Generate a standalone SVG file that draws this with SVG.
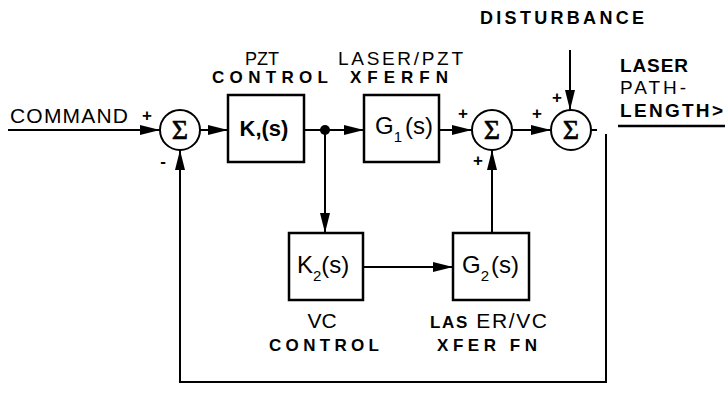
<svg xmlns="http://www.w3.org/2000/svg" width="727" height="394" viewBox="0 0 727 394">
<defs>
<marker id="arr" viewBox="0 0 20 11" refX="20" refY="5.5" markerWidth="20" markerHeight="11" orient="auto" markerUnits="userSpaceOnUse">
<path d="M0,0.5 L20,5.5 L0,10.5 z" fill="#000"/>
</marker>
<style>
.ln{fill:none;stroke:#000;stroke-width:2}
.ar{fill:none;stroke:#000;stroke-width:2;marker-end:url(#arr)}
.bx{fill:#fff;stroke:#000;stroke-width:2.5}
.sc{fill:#fff;stroke:#000;stroke-width:2}
.sig{font-family:"Liberation Serif",serif;font-size:28px;text-anchor:middle;stroke:#000;stroke-width:0.6}
.t{font-family:"Liberation Sans",Arial,sans-serif;fill:#000}
.b{font-weight:bold}
.c{text-anchor:middle}
.sg{font-family:"Liberation Sans",Arial,sans-serif;font-weight:bold;font-size:17px;text-anchor:middle}
</style>
</defs>
<rect width="727" height="394" fill="#fff"/>

<g id="connectors">
<line class="ar" x1="8" y1="130" x2="160" y2="130"/>
<line class="ar" x1="200" y1="130" x2="228" y2="130"/>
<line class="ln" x1="304" y1="130" x2="330" y2="130"/>
<line class="ar" x1="325" y1="130" x2="364" y2="130"/>
<circle cx="325" cy="130" r="5" fill="#000"/>
<line class="ar" x1="325" y1="130" x2="325" y2="233"/>
<line class="ar" x1="439" y1="130" x2="472" y2="130"/>
<line class="ar" x1="512" y1="130" x2="551" y2="130"/>
<line class="ar" x1="570" y1="50" x2="570" y2="110"/>
<line class="ln" x1="591" y1="130" x2="597" y2="130"/>
<line class="ar" x1="363" y1="267" x2="453" y2="267"/>
<line class="ar" x1="492" y1="233" x2="492" y2="150"/>
<polyline class="ln" points="606,134 606,382 180,382 180,170"/>
<line class="ar" x1="180" y1="175" x2="180" y2="150"/>
</g>

<g id="sum1">
<circle class="sc" cx="180" cy="130" r="20"/>
<text class="sig" x="180" y="139">Σ</text>
<text class="sg" x="147" y="121">+</text>
<text class="sg" x="163" y="167">-</text>
</g>

<g id="k1">
<rect class="bx" x="228" y="95" width="76" height="67"/>
<text class="t b c" x="264" y="136" font-size="22">K,(s)</text>
<text class="t c" x="262" y="65" font-size="18">PZT</text>
<text class="t b" x="212" y="83" font-size="17" textLength="116" lengthAdjust="spacing">CONTROL</text>
</g>

<g id="g1">
<rect class="bx" x="364" y="95" width="75" height="67"/>
<text class="t" x="375" y="134" font-size="24">G<tspan font-size="15" dy="8">1</tspan><tspan dy="-8" dx="3">(s)</tspan></text>
<text class="t" x="338" y="65" font-size="19" textLength="125" lengthAdjust="spacing">LASER/PZT</text>
<text class="t b" x="350" y="83" font-size="17" textLength="98" lengthAdjust="spacing">XFERFN</text>
</g>

<g id="sum2">
<circle class="sc" cx="492" cy="130" r="20"/>
<text class="sig" x="492" y="139">Σ</text>
<text class="sg" x="463" y="119">+</text>
<text class="sg" x="478" y="166">+</text>
</g>

<g id="sum3">
<circle class="sc" cx="571" cy="130" r="20"/>
<text class="sig" x="571" y="139">Σ</text>
<text class="sg" x="537" y="119">+</text>
<text class="sg" x="557" y="103">+</text>
<text class="t b c" x="562" y="24" font-size="18" textLength="164" lengthAdjust="spacing">DISTURBANCE</text>
</g>

<g id="output">
<text class="t b" x="620" y="72" font-size="19" textLength="68" lengthAdjust="spacing">LASER</text>
<text class="t" x="620" y="94" font-size="19" textLength="66" lengthAdjust="spacing">PATH-</text>
<text class="t b" x="620" y="117" font-size="19" textLength="103" lengthAdjust="spacing">LENGTH&gt;</text>
<line x1="618" y1="126" x2="725" y2="126" stroke="#000" stroke-width="2.5"/>
</g>

<g id="k2">
<rect class="bx" x="289" y="233" width="74" height="67"/>
<text class="t" x="297" y="273" font-size="24">K<tspan font-size="15" dy="8">2</tspan><tspan dy="-8">(s)</tspan></text>
<text class="t c" x="322" y="328" font-size="21">VC</text>
<text class="t b" x="269" y="351" font-size="17" textLength="110" lengthAdjust="spacing">CONTROL</text>
</g>

<g id="g2">
<rect class="bx" x="453" y="233" width="76" height="67"/>
<text class="t" x="462" y="273" font-size="24">G<tspan font-size="15" dy="8">2</tspan><tspan dy="-8" dx="2">(s)</tspan></text>
<text class="t" x="430" y="328" textLength="117" lengthAdjust="spacing"><tspan class="b" font-size="17">LAS</tspan><tspan font-size="21"> ER/VC</tspan></text>
<text class="t b" x="437" y="351" font-size="17" textLength="100" lengthAdjust="spacing">XFER  FN</text>
</g>

<text class="t" x="10" y="123" font-size="21" textLength="118" lengthAdjust="spacing">COMMAND</text>
</svg>
